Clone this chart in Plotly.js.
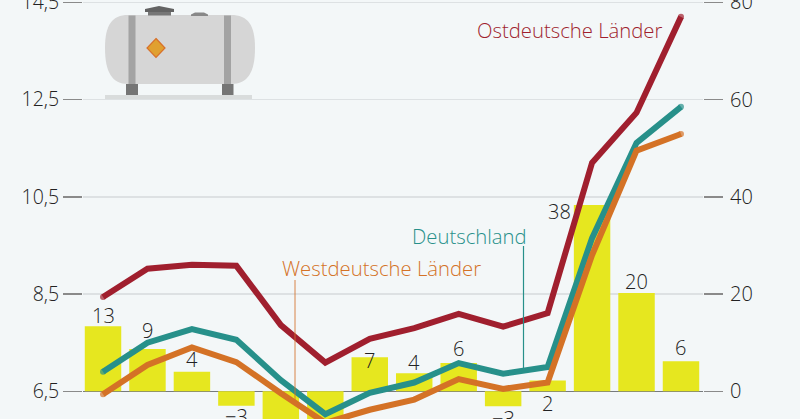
<!DOCTYPE html>
<html><head><meta charset="utf-8">
<script src="https://cdn.plot.ly/plotly-3.0.1.min.js"></script>
<style>html,body{margin:0;padding:0;background:#f3f7f8;overflow:hidden}</style>
</head><body><div id="chart" style="width:800px;height:419px"></div>
<script>
const periods = [0,1,2,3,4,5,6,7,8,9,10,11,12,13];
const changePct = [13.4,8.7,4,-3,-7,-6,7,3.7,5.8,-3.1,2.2,38.3,20.2,6.2];
const changeLabels = ["13","9","4","−3","","","7","4","6","−3","2","38","20","6"];
const labelShift = [11,18,12,-11,0,0,-3,11,15,-12,-23,-6,12,14];
const labelXShift = [0,0,0,0,0,0,0,0,0,0,0,-33,0,0];
const ost = [8.44,9.02,9.10,9.08,7.86,7.09,7.58,7.80,8.09,7.83,8.11,11.20,12.23,14.20];
const deutschland = [6.90,7.50,7.78,7.56,6.73,6.03,6.47,6.68,7.08,6.86,7.00,9.65,11.61,12.35];
const west = [6.44,7.04,7.40,7.10,6.46,5.85,6.12,6.33,6.75,6.55,6.68,9.3,11.45,11.79];
const leftTicks = [6.5,8.5,10.5,12.5,14.5];
const leftLabels = ["6,5","8,5","10,5","12,5","14,5"];
const rightTicks = [0,20,40,60,80];
const rightLabels = ["0","20","40","60","80"];

const W=800,H=419,L=83,R=703;
const px=x=>(x-L)/(R-L), py=y=>1-y/H;
const FONT='"Open Sans", sans-serif';
const rectS=(x0,y0,x1,y1,c)=>({type:'rect',xref:'paper',yref:'paper',x0:px(x0),x1:px(x1),y0:py(y0),y1:py(y1),fillcolor:c,line:{width:0},layer:'below'});
const pathS=(pts,c,lc,lw)=>({type:'path',xref:'paper',yref:'paper',path:pts,fillcolor:c,line:{width:lw||0,color:lc||c},layer:'below'});
const P=(x,y)=>px(x).toFixed(5)+' '+py(y).toFixed(5);
const tank=[
 rectS(105,95,252,99.5,'#d9dcdc'),
 rectS(126,84,138,95,'#757575'),
 rectS(222,84,233.5,95,'#757575'),
 pathS(`M ${P(128,15)} L ${P(231,15)} C ${P(248,15)} ${P(255,25)} ${P(255,48)} C ${P(255,72)} ${P(248,84)} ${P(231,84)} L ${P(128,84)} C ${P(112,84)} ${P(105,72)} ${P(105,48)} C ${P(105,25)} ${P(112,15)} ${P(128,15)} Z`,'#d6d6d6'),
 rectS(128.5,15.5,135.5,84,'#a3a3a3'),
 rectS(224,15.5,231,84,'#a3a3a3'),
 rectS(148,12,171,15.5,'#777777'),
 pathS(`M ${P(145,12)} L ${P(145,9)} L ${P(159,6)} L ${P(174,9)} L ${P(174,12)} Z`,'#636363'),
 pathS(`M ${P(191,16)} L ${P(191,14.5)} L ${P(195,12.5)} L ${P(204,12.5)} L ${P(208,14.5)} L ${P(208,16)} Z`,'#888888'),
 pathS(`M ${P(156,38.5)} L ${P(165,48)} L ${P(156,57.5)} L ${P(147,48)} Z`,'#e0a030','#d8702a',1.2)
];
const leaders=[
 {type:'line',xref:'paper',yref:'paper',x0:px(295),x1:px(295),y0:py(280),y1:py(405),line:{color:'#d4722a',width:1},opacity:0.85},
 {type:'line',xref:'paper',yref:'paper',x0:px(523.5),x1:px(523.5),y0:py(246),y1:py(368),line:{color:'#27908a',width:1.2},opacity:1}
];
const lineTrace=(y,c,name)=>({x:periods,y,name,yaxis:'y2',type:'scatter',mode:'lines+markers',
  line:{color:c,width:6,shape:'linear'},marker:{color:c,size:periods.map((p,i)=>(i==0||i==periods.length-1)?6:0),line:{width:0}},cliponaxis:true,hoverinfo:'skip'});
const traces=[
 {x:periods,y:changePct,type:'bar',marker:{color:'#e6e71f',line:{width:0}},width:0.82,yaxis:'y',name:'Veränderung',hoverinfo:'skip'},
 lineTrace(ost,'#a01f2e','Ostdeutsche Länder'),
 lineTrace(deutschland,'#27908a','Deutschland'),
 lineTrace(west,'#d47226','Westdeutsche Länder')
];
const barAnn=periods.map((p,i)=>({x:p,y:changePct[i],xref:'x',yref:'y',text:changeLabels[i],showarrow:false,yshift:labelShift[i],xshift:labelXShift[i],
  font:{family:FONT,size:20,color:'#222',weight:300}})).filter(a=>a.text);
const nameAnn=(t,x,y,c)=>({text:t,xref:'paper',yref:'paper',x:px(x),y:py(y),xanchor:'left',yanchor:'middle',showarrow:false,font:{family:FONT,size:20.3,color:c,weight:300},borderpad:0,borderwidth:0});
const layout={
 width:W,height:H,margin:{l:L,r:W-R,t:0,b:0,pad:0},paper_bgcolor:'#f3f7f8',plot_bgcolor:'#f3f7f8',showlegend:false,
 xaxis:{visible:false,range:[-0.45,13.495],fixedrange:true},
 yaxis:{side:'right',range:[-5.7,80.47],tickmode:'array',tickvals:rightTicks,ticktext:rightLabels,ticks:'outside',ticklen:19,tickwidth:1.5,tickcolor:'#8a8a8a',
   showgrid:true,gridcolor:'#dde1e3',gridwidth:1.5,zeroline:true,zerolinecolor:'#777b7d',zerolinewidth:1.5,showline:false,ticklabeloverflow:'allow',ticklabelstandoff:3,
   tickfont:{family:FONT,size:20,color:'#222',weight:300},automargin:false},
 yaxis2:{side:'left',overlaying:'y',range:[5.93,14.547],tickmode:'array',tickvals:leftTicks,ticktext:leftLabels,ticks:'outside',ticklen:19,tickwidth:1.5,tickcolor:'#8a8a8a',
   showgrid:false,zeroline:false,showline:false,ticklabeloverflow:'allow',tickfont:{family:FONT,size:19.5,color:'#222',weight:300},automargin:false},
 bargap:0.18,
 shapes:[...tank,...leaders],
 annotations:[...barAnn,nameAnn('Ostdeutsche Länder',477,30,'#a01f2e'),nameAnn('Westdeutsche Länder',282,268,'#d47226'),nameAnn('Deutschland',412,236,'#27908a')]
};
Plotly.newPlot('chart',traces,layout,{displayModeBar:false,staticPlot:true});
</script></body></html>
